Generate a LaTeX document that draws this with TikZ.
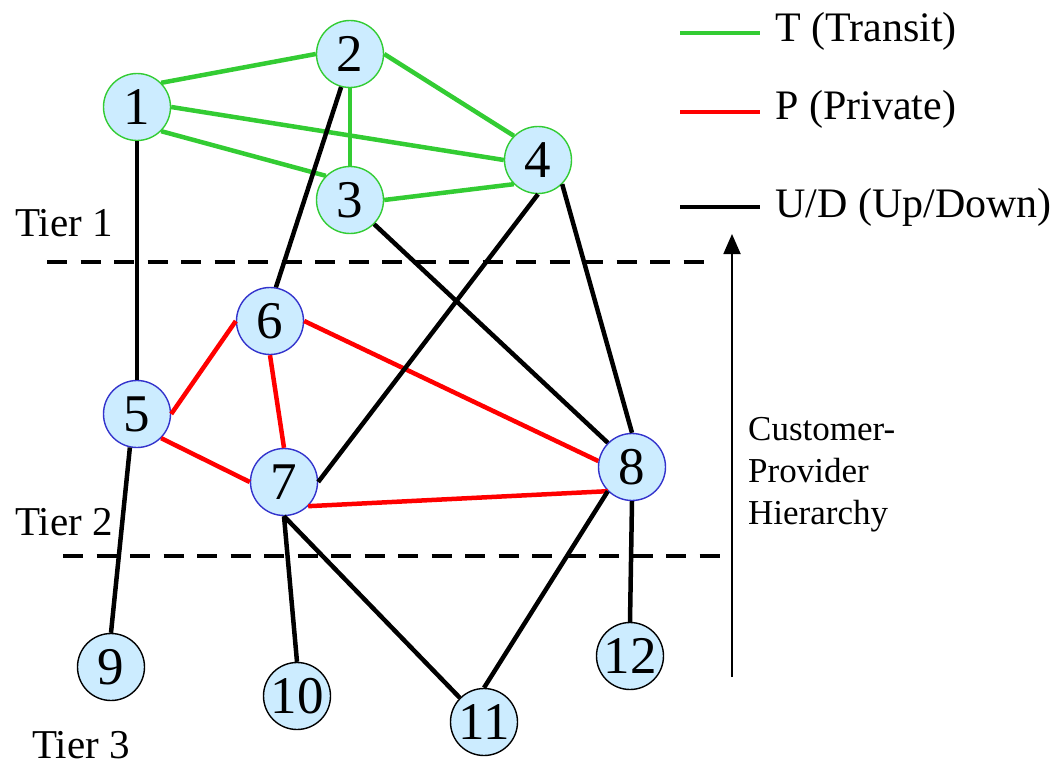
\documentclass[tikz,border=0pt]{standalone}
\usepackage{fontspec}
\setmainfont{Liberation Serif}
\usetikzlibrary{arrows.meta}
\definecolor{transit}{RGB}{51,204,51}
\definecolor{private}{RGB}{255,0,0}
\definecolor{updown}{RGB}{0,0,0}
\definecolor{asfill}{RGB}{204,236,255}
\definecolor{tierblue}{RGB}{51,51,204}
\tikzset{
  asnode/.style={circle, minimum size=67pt, inner sep=0pt, line width=1.4pt,
    fill=asfill, font=\fontsize{53}{60}\selectfont},
  tierone/.style={asnode, draw=transit},
  tiertwo/.style={asnode, draw=tierblue},
  tierthree/.style={asnode, draw=black},
  tlink/.style={draw=transit, line width=4.5pt},
  plink/.style={draw=private, line width=4.5pt},
  udlink/.style={draw=updown, line width=4.5pt},
  tierline/.style={line width=4.5pt, dash pattern=on 20pt off 13.5pt},
  label/.style={inner sep=0pt, font=\fontsize{41}{48}\selectfont},
  legendtext/.style={inner sep=0pt, anchor=base west, font=\fontsize{42}{48}\selectfont},
}
\begin{document}
\begin{tikzpicture}[x=1pt, y=-1pt]
\useasboundingbox (0,0) rectangle (1055,765);

% Tier boundaries
\coordinate (t1a) at (47,262);  \coordinate (t1b) at (704,262);
\coordinate (t2a) at (63,556);  \coordinate (t2b) at (720,556);
\draw[tierline] (t1a) -- (t1b);
\draw[tierline] (t2a) -- (t2b);

% Autonomous systems
\node[tierone] (n1) at (137,107) {1};
\node[tierone] (n2) at (350,54) {2};
\node[tierone] (n3) at (350,200) {3};
\node[tierone] (n4) at (538,160) {4};
\node[tiertwo] (n5) at (137,414) {5};
\node[tiertwo] (n6) at (270,321) {6};
\node[tiertwo] (n7) at (284,482) {7};
\node[tiertwo] (n8) at (632,467) {8};
\node[tierthree] (n9) at (111,667) {9};
\node[tierthree] (n10) at (297,696) {10};
\node[tierthree] (n11) at (484,722) {11};
\node[tierthree] (n12) at (630,656) {12};

% Transit links
\draw[tlink] (n1.45) -- (n2.west);
\draw[tlink] (n1.east) -- (n4.west);
\draw[tlink] (n1.-45) -- (n3.135);
\draw[tlink] (n2.south) -- (n3.north);
\draw[tlink] (n2.east) -- (n4.135);
\draw[tlink] (n3.east) -- (n4.225);

% Private peering links
\draw[plink] (n5.east) -- (n6.west);
\draw[plink] (n5.-45) -- (n7.west);
\draw[plink] (n6.south) -- (n7.north);
\draw[plink] (n6.east) -- (n8.170);
\draw[plink] (n7.-45) -- (n8.225);

% Customer-provider links
\draw[udlink] (n1.south) -- (n5.north);
\draw[udlink] (n2.-105) -- (n6.80);
\draw[udlink] (n3.-45) -- (n8.135);
\draw[udlink] (n4.south) -- (n7.east);
\draw[udlink] (n4.-45) -- (n8.north);
\draw[udlink] (n5.-102) -- (n9.north);
\draw[udlink] (n7.south) -- (n10.north);
\draw[udlink] (n7.south) -- (n11.135);
\draw[udlink] (n8.225) -- (n11.north);
\draw[udlink] (n8.south) -- (n12.north);

% Tier labels
\node[label, anchor=base west] (tier1) at (15,236) {Tier 1};
\node[label, anchor=base west] (tier2) at (15,535) {Tier 2};
\node[label, anchor=base west] (tier3) at (32,758) {Tier 3};

% Hierarchy arrow
\coordinate (arrlow) at (732,677);
\coordinate (arrhigh) at (732,234);
\draw[line width=1.8pt, -{Triangle[length=20pt,width=17pt]}] (arrlow) -- (arrhigh);
\node[inner sep=0pt, anchor=north west, align=left,
      font=\fontsize{35}{42}\selectfont] (cph) at (748,417) {Customer-\\Provider\\Hierarchy};

% Legend
\coordinate (lt1) at (680,33);  \coordinate (lt2) at (760,33);
\coordinate (lp1) at (680,112); \coordinate (lp2) at (760,112);
\coordinate (lu1) at (680,207); \coordinate (lu2) at (760,207);
\draw[tlink] (lt1) -- (lt2);
\draw[plink] (lp1) -- (lp2);
\draw[udlink] (lu1) -- (lu2);
\node[legendtext] (legT) at (775,42) {T (Transit)};
\node[legendtext] (legP) at (775,120) {P (Private)};
\node[legendtext] (legU) at (775,217) {U/D (Up/Down)};
\end{tikzpicture}
\end{document}
